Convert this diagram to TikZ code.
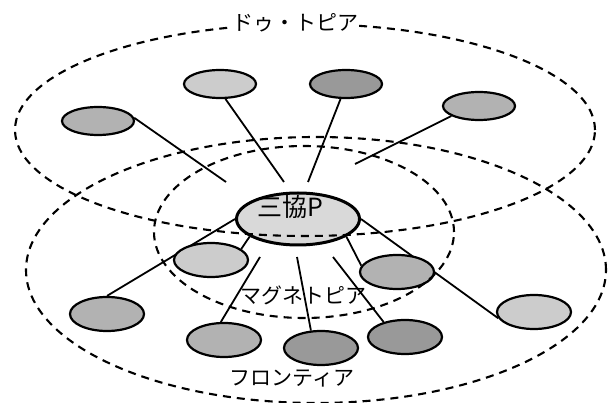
\documentclass[tikz,border=0pt]{standalone}
\usepackage{fontspec}
\newfontfamily\jpfont{Noto Sans CJK JP}
\usetikzlibrary{shapes.geometric,backgrounds}
\begin{document}
\begin{tikzpicture}[
  x=1pt,y=-1pt,
  zone/.style={line width=2.1pt,dash pattern=on 8pt off 6pt},
  cell/.style={ellipse,draw,line width=2.2pt,minimum width=74pt,minimum height=34pt,inner sep=0pt},
  topcell/.style={cell,minimum width=72pt,minimum height=28pt},
  light/.style={fill=gray!40},
  mid/.style={fill=gray!60},
  dark/.style={fill=gray!80},
  link/.style={line width=1.8pt},
  tag/.style={font=\jpfont\fontsize{21}{21}\selectfont}
]
  \useasboundingbox (0,0) rectangle (608,403);

  % nodes of the outer ring
  \node[topcell,mid] (nA) at (98,121) {};
  \node[topcell,light] (nB) at (220,84) {};
  \node[topcell,dark] (nC) at (346,84) {};
  \node[topcell,mid] (nD) at (479,106) {};

  \node[cell,line width=3pt,minimum width=123pt,minimum height=52pt,fill=gray!30,
        label={[tag,font=\jpfont\fontsize{25}{25}\selectfont,xshift=-8pt,yshift=12pt]center:三協P}] (nP) at (298,219) {};

  \node[cell,mid] (nE) at (107,314) {};
  \node[cell,light] (nF) at (211,260) {};
  \node[cell,mid] (nG) at (224,340) {};
  \node[cell,dark] (nH) at (321,348) {};
  \node[cell,dark] (nI) at (405,337) {};
  \node[cell,mid] (nJ) at (397,272) {};
  \node[cell,light] (nK) at (534,312) {};

  % free ends of the broken links
  \coordinate (eA) at (226,182);
  \coordinate (eB) at (284,182);
  \coordinate (eC) at (308,182);
  \coordinate (eD) at (355,164);
  \coordinate (eG) at (260,257);
  \coordinate (eH) at (297,257);
  \coordinate (eI) at (333,257);

  \begin{scope}[on background layer]
    \draw[link] (nA.5) -- (eA);
    \draw[link] (nB.-70) -- (eB);
    \draw[link] (nC.-110) -- (eC);
    \draw[link] (nD.200) -- (eD);
    \draw[link] (nP.west) -- (nE.north);
    \draw[link] (nP.-160) -- (nF.20);
    \draw[link] (nG.100) -- (eG);
    \draw[link] (nH.120) -- (eH);
    \draw[link] (nI.145) -- (eI);
    \draw[link] (nP.-20) -- (nJ.170);
    \draw[link] (nP.east) -- (nK.190);
  \end{scope}

  % dashed zones
  \draw[zone] (305,130) ellipse [x radius=290pt,y radius=106pt];
  \draw[zone] (316,270) ellipse [x radius=290pt,y radius=133pt];
  \draw[zone] (304,232) ellipse [x radius=150pt,y radius=86pt];

  \node[tag,fill=white,inner sep=1pt] (tDou) at (295,23) {ドゥ・トピア};
  \node[tag] (tMag) at (303,295) {マグネトピア};
  \node[tag] (tFro) at (292,379) {フロンティア};
\end{tikzpicture}
\end{document}
